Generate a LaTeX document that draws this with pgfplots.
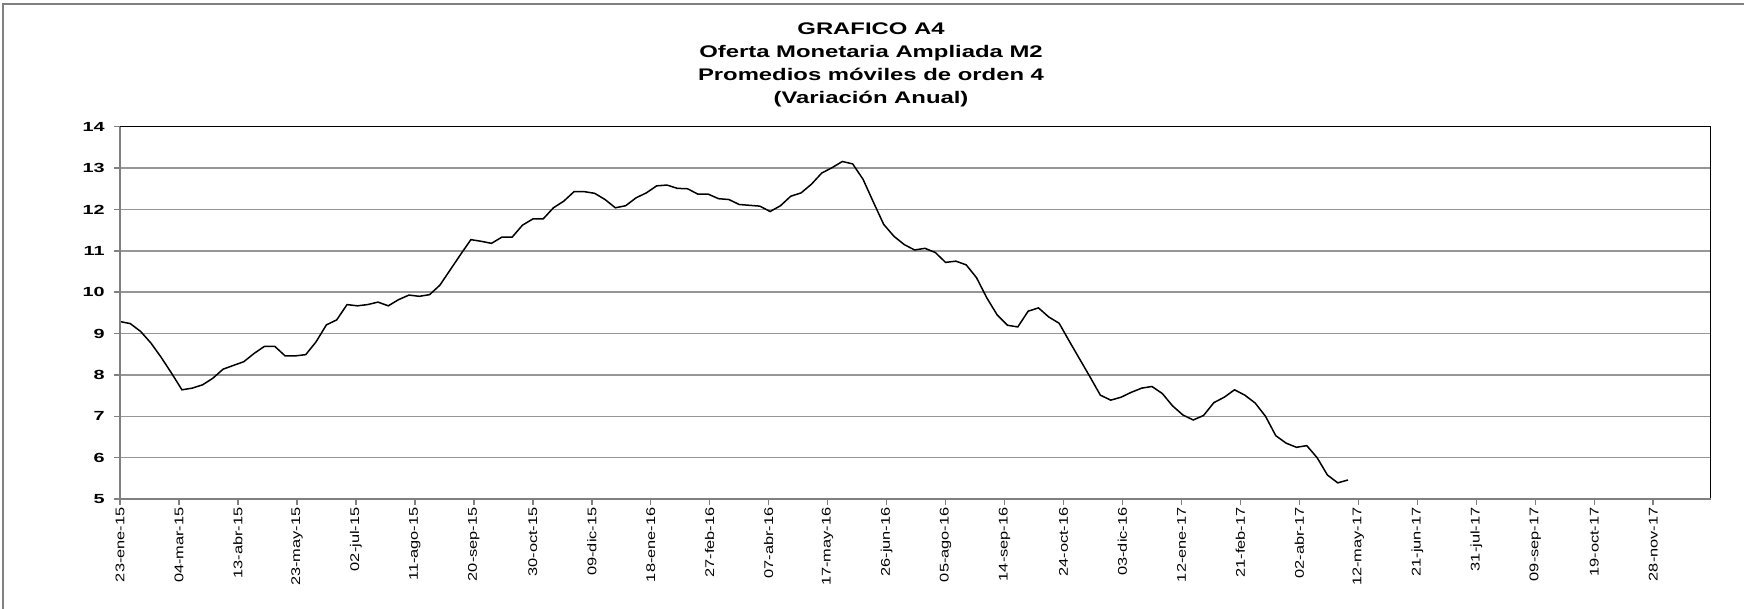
\documentclass[border=0pt]{standalone}
\usepackage{pgfplots}
\pgfplotsset{compat=1.18}
\usepackage{fontspec}
\setmainfont{Liberation Sans}
\newfontfamily\titlefont[FakeStretch=1.42]{Liberation Sans}
\newfontfamily\ylabfont[FakeStretch=1.5]{Liberation Sans}
\newfontfamily\xlabfont[FakeStretch=1.3]{Liberation Sans}
\definecolor{gridgray}{RGB}{150,150,150}
\definecolor{axgray}{RGB}{128,128,128}
\begin{document}
\begin{tikzpicture}
\useasboundingbox (0,0) rectangle (872bp,304.5bp);
\draw[axgray, line width=1bp] (1.5bp,0) -- (1.5bp,302.5bp) -- (872bp,302.5bp);
\node[anchor=base, font=\titlefont\bfseries\fontsize{8.4bp}{10bp}\selectfont] at (435.5bp,287bp) {GRAFICO A4};
\node[anchor=base, font=\titlefont\bfseries\fontsize{8.4bp}{10bp}\selectfont] at (435.5bp,275.5bp) {Oferta Monetaria Ampliada M2};
\node[anchor=base, font=\titlefont\bfseries\fontsize{8.4bp}{10bp}\selectfont] at (435.5bp,264bp) {Promedios móviles de orden 4};
\node[anchor=base, font=\titlefont\bfseries\fontsize{8.4bp}{10bp}\selectfont] at (435.5bp,252.5bp) {(Variación Anual)};
\begin{axis}[
  at={(60bp,55bp)}, anchor=south west,
  scale only axis, width=795.35bp, height=186.15bp,
  xmin=0, xmax=1079, ymin=5, ymax=14,
  xtick={0,40,...,1040},
  xticklabels={23-ene-15,04-mar-15,13-abr-15,23-may-15,02-jul-15,11-ago-15,20-sep-15,30-oct-15,09-dic-15,18-ene-16,27-feb-16,07-abr-16,17-may-16,26-jun-16,05-ago-16,14-sep-16,24-oct-16,03-dic-16,12-ene-17,21-feb-17,02-abr-17,12-may-17,21-jun-17,31-jul-17,09-sep-17,19-oct-17,28-nov-17},
  ytick={5,6,...,14},
  xtick pos=left, ytick pos=left,
  ymajorgrids,
  major grid style={gridgray, line width=0.75bp},
  axis line style={draw=none},
  tick align=outside, major tick length=3bp,
  tick style={axgray, line width=0.75bp},
  /pgf/number format/assume math mode=true,
  x tick label style={rotate=90, anchor=east, font=\xlabfont\fontsize{6.3bp}{7bp}\selectfont, inner sep=1bp},
  y tick label style={font=\ylabfont\bfseries\fontsize{6.6bp}{7bp}\selectfont, inner sep=1bp, xshift=-3.5bp},
  clip=false,
]
\addplot[black, line width=0.75bp, mark=none] table {
x y
0 9.29
7 9.24
14 9.05
21 8.77
28 8.42
35 8.04
42 7.64
49 7.68
56 7.76
63 7.92
70 8.14
77 8.23
84 8.32
91 8.52
98 8.69
105 8.69
112 8.46
119 8.46
126 8.49
133 8.80
140 9.21
147 9.33
154 9.70
161 9.67
168 9.70
175 9.76
182 9.67
189 9.82
196 9.93
203 9.90
210 9.94
217 10.17
224 10.54
231 10.91
238 11.27
245 11.23
252 11.18
259 11.33
266 11.33
273 11.62
280 11.77
287 11.77
294 12.04
301 12.20
308 12.43
315 12.43
322 12.39
329 12.24
336 12.04
343 12.09
350 12.28
357 12.40
364 12.57
371 12.59
378 12.51
385 12.50
392 12.37
399 12.37
406 12.26
413 12.24
420 12.12
427 12.10
434 12.08
441 11.95
448 12.09
455 12.32
462 12.40
469 12.61
476 12.88
483 13.01
490 13.16
497 13.10
504 12.73
511 12.18
518 11.64
525 11.35
532 11.15
539 11.02
546 11.06
553 10.96
560 10.72
567 10.75
574 10.66
581 10.35
588 9.86
595 9.45
602 9.20
609 9.16
616 9.54
623 9.62
630 9.40
637 9.25
644 8.81
651 8.38
658 7.95
665 7.51
672 7.39
679 7.46
686 7.58
693 7.68
700 7.72
707 7.55
714 7.25
721 7.03
728 6.91
735 7.02
742 7.33
749 7.46
756 7.64
763 7.51
770 7.32
777 7.00
784 6.53
791 6.35
798 6.25
805 6.29
812 6.00
819 5.58
826 5.39
833 5.46
};
\draw[black, line width=0.75bp] (rel axis cs:0,1) -- (rel axis cs:1,1) -- (rel axis cs:1,0);
\draw[axgray, line width=0.9bp] (rel axis cs:0,1) -- (rel axis cs:0,0) -- (rel axis cs:1,0);
\end{axis}
\end{tikzpicture}
\end{document}
